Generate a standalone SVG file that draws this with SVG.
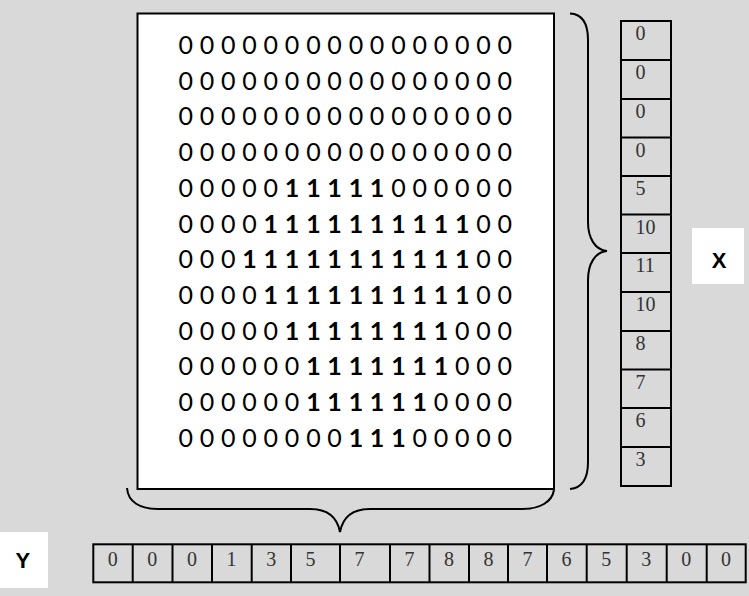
<svg xmlns="http://www.w3.org/2000/svg" width="749" height="596" viewBox="0 0 749 596">
<style>
.bg{fill:#d9d9d9}
.box{fill:#ffffff;stroke:#000;stroke-width:2}
.cell{fill:none;stroke:#000;stroke-width:2}
.brace{fill:none;stroke:#000;stroke-width:2}
.m{font-family:Lato,"Liberation Sans",sans-serif;font-size:25px;fill:#000;text-anchor:middle}
.m tspan.b{font-weight:bold}
.v{font-family:"Liberation Serif","Times New Roman",serif;font-size:20px;fill:#333}
.lbl{font-family:"Liberation Sans",Arial,sans-serif;font-size:22px;font-weight:bold;fill:#000;text-anchor:middle}
.lblbox{fill:#ffffff}
</style>
<rect class="bg" x="0" y="0" width="749" height="596"/>

<g id="matrix">
<rect class="box" x="137.5" y="13.5" width="416.5" height="475.5"/>
<text class="m" y="54" x="185.8 196.4 207.1 217.7 228.3 239 249.6 260.2 270.8 281.5 292.1 302.7 313.4 324 334.6 345.3 355.9 366.5 377.1 387.8 398.4 409 419.7 430.3 440.9 451.5 462.2 472.8 483.4 494.1 504.7">0 0 0 0 0 0 0 0 0 0 0 0 0 0 0 0</text>
<text class="m" y="89.7" x="185.8 196.4 207.1 217.7 228.3 239 249.6 260.2 270.8 281.5 292.1 302.7 313.4 324 334.6 345.3 355.9 366.5 377.1 387.8 398.4 409 419.7 430.3 440.9 451.5 462.2 472.8 483.4 494.1 504.7">0 0 0 0 0 0 0 0 0 0 0 0 0 0 0 0</text>
<text class="m" y="125.4" x="185.8 196.4 207.1 217.7 228.3 239 249.6 260.2 270.8 281.5 292.1 302.7 313.4 324 334.6 345.3 355.9 366.5 377.1 387.8 398.4 409 419.7 430.3 440.9 451.5 462.2 472.8 483.4 494.1 504.7">0 0 0 0 0 0 0 0 0 0 0 0 0 0 0 0</text>
<text class="m" y="161.1" x="185.8 196.4 207.1 217.7 228.3 239 249.6 260.2 270.8 281.5 292.1 302.7 313.4 324 334.6 345.3 355.9 366.5 377.1 387.8 398.4 409 419.7 430.3 440.9 451.5 462.2 472.8 483.4 494.1 504.7">0 0 0 0 0 0 0 0 0 0 0 0 0 0 0 0</text>
<text class="m" y="196.8" x="185.8 196.4 207.1 217.7 228.3 239 249.6 260.2 270.8 281.5 292.1 302.7 313.4 324 334.6 345.3 355.9 366.5 377.1 387.8 398.4 409 419.7 430.3 440.9 451.5 462.2 472.8 483.4 494.1 504.7">0 0 0 0 0 <tspan class="b">1 1 1 1 1</tspan> 0 0 0 0 0 0</text>
<text class="m" y="232.5" x="185.8 196.4 207.1 217.7 228.3 239 249.6 260.2 270.8 281.5 292.1 302.7 313.4 324 334.6 345.3 355.9 366.5 377.1 387.8 398.4 409 419.7 430.3 440.9 451.5 462.2 472.8 483.4 494.1 504.7">0 0 0 0 <tspan class="b">1 1 1 1 1 1 1 1 1 1</tspan> 0 0</text>
<text class="m" y="268.2" x="185.8 196.4 207.1 217.7 228.3 239 249.6 260.2 270.8 281.5 292.1 302.7 313.4 324 334.6 345.3 355.9 366.5 377.1 387.8 398.4 409 419.7 430.3 440.9 451.5 462.2 472.8 483.4 494.1 504.7">0 0 0 <tspan class="b">1 1 1 1 1 1 1 1 1 1 1</tspan> 0 0</text>
<text class="m" y="303.9" x="185.8 196.4 207.1 217.7 228.3 239 249.6 260.2 270.8 281.5 292.1 302.7 313.4 324 334.6 345.3 355.9 366.5 377.1 387.8 398.4 409 419.7 430.3 440.9 451.5 462.2 472.8 483.4 494.1 504.7">0 0 0 0 <tspan class="b">1 1 1 1 1 1 1 1 1 1</tspan> 0 0</text>
<text class="m" y="339.6" x="185.8 196.4 207.1 217.7 228.3 239 249.6 260.2 270.8 281.5 292.1 302.7 313.4 324 334.6 345.3 355.9 366.5 377.1 387.8 398.4 409 419.7 430.3 440.9 451.5 462.2 472.8 483.4 494.1 504.7">0 0 0 0 0 <tspan class="b">1 1 1 1 1 1 1 1</tspan> 0 0 0</text>
<text class="m" y="375.3" x="185.8 196.4 207.1 217.7 228.3 239 249.6 260.2 270.8 281.5 292.1 302.7 313.4 324 334.6 345.3 355.9 366.5 377.1 387.8 398.4 409 419.7 430.3 440.9 451.5 462.2 472.8 483.4 494.1 504.7">0 0 0 0 0 0 <tspan class="b">1 1 1 1 1 1 1</tspan> 0 0 0</text>
<text class="m" y="411" x="185.8 196.4 207.1 217.7 228.3 239 249.6 260.2 270.8 281.5 292.1 302.7 313.4 324 334.6 345.3 355.9 366.5 377.1 387.8 398.4 409 419.7 430.3 440.9 451.5 462.2 472.8 483.4 494.1 504.7">0 0 0 0 0 0 <tspan class="b">1 1 1 1 1 1</tspan> 0 0 0 0</text>
<text class="m" y="446.7" x="185.8 196.4 207.1 217.7 228.3 239 249.6 260.2 270.8 281.5 292.1 302.7 313.4 324 334.6 345.3 355.9 366.5 377.1 387.8 398.4 409 419.7 430.3 440.9 451.5 462.2 472.8 483.4 494.1 504.7">0 0 0 0 0 0 0 0 <tspan class="b">1 1 1</tspan> 0 0 0 0 0</text>
</g>

<g id="connectors">
<path class="brace" d="M570,13.5 C581,14 588,22 588,40 L588,222 C588,238 595,250 607,251 C595,252 588,264 588,280 L588,462 C588,480 581,488 570,489"/>
<path class="brace" d="M127,488 C128,502 140,509 158,509 L310,509 C326,509 337,516 340,532 C343,516 354,509 370,509 L522,509 C540,509 552,502 554,490"/>
</g>

<g id="x-column">
<rect class="cell" x="621" y="21" width="50" height="465"/>
<path class="cell" d="M621,60H671M621,99H671M621,137.5H671M621,176H671M621,214.5H671M621,253H671M621,292H671M621,331H671M621,369.5H671M621,408H671M621,447H671"/>
<text class="v" x="635.5" y="40">0</text>
<text class="v" x="635.5" y="79">0</text>
<text class="v" x="635.5" y="118">0</text>
<text class="v" x="635.5" y="156.5">0</text>
<text class="v" x="635.5" y="195">5</text>
<text class="v" x="635.5" y="233.5">10</text>
<text class="v" x="635.5" y="272">11</text>
<text class="v" x="635.5" y="311">10</text>
<text class="v" x="635.5" y="350">8</text>
<text class="v" x="635.5" y="388.5">7</text>
<text class="v" x="635.5" y="427">6</text>
<text class="v" x="635.5" y="466">3</text>
</g>

<g id="x-label">
<rect class="lblbox" x="692" y="228" width="52" height="56"/>
<text class="lbl" x="719" y="268">X</text>
</g>

<g id="y-row">
<rect class="cell" x="93.3" y="544.3" width="652.4" height="38"/>
<path class="cell" d="M132.7,544.3V582.3M172.5,544.3V582.3M212,544.3V582.3M251.7,544.3V582.3M291,544.3V582.3M340,544.3V582.3M390,544.3V582.3M429.5,544.3V582.3M469,544.3V582.3M508,544.3V582.3M547,544.3V582.3M586.7,544.3V582.3M626.7,544.3V582.3M666.7,544.3V582.3M706.7,544.3V582.3"/>
<text class="v" x="107.8" y="566">0</text>
<text class="v" x="147.2" y="566">0</text>
<text class="v" x="187" y="566">0</text>
<text class="v" x="226.5" y="566">1</text>
<text class="v" x="266.2" y="566">3</text>
<text class="v" x="305.5" y="566">5</text>
<text class="v" x="354.5" y="566">7</text>
<text class="v" x="404.5" y="566">7</text>
<text class="v" x="444" y="566">8</text>
<text class="v" x="483.5" y="566">8</text>
<text class="v" x="522.5" y="566">7</text>
<text class="v" x="561.5" y="566">6</text>
<text class="v" x="601.2" y="566">5</text>
<text class="v" x="641.2" y="566">3</text>
<text class="v" x="681.2" y="566">0</text>
<text class="v" x="721" y="566">0</text>
</g>

<g id="y-label">
<rect class="lblbox" x="0" y="532" width="48" height="56"/>
<text class="lbl" x="22.8" y="568">Y</text>
</g>
</svg>
